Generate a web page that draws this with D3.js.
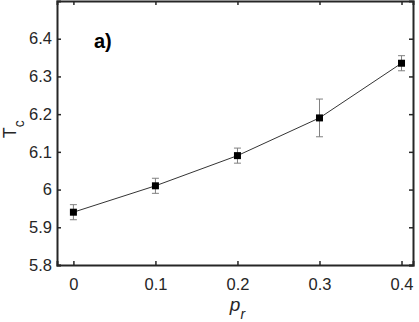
<!DOCTYPE html>
<html lang="en">
<head>
    <meta charset="UTF-8">
    <title>Tc vs pr</title>
    <style>
        body { margin: 0; background: #fff; }
        text { font-family: "Liberation Sans", Arial, sans-serif; }
    </style>
</head>
<body>
    <script src="https://d3js.org/d3.v7.min.js"></script>
    <script>
        // data
        const pr = [0, 0.1, 0.2, 0.3, 0.4];
        const tc = [5.94, 6.01, 6.09, 6.19, 6.335];
        const tcErr = [0.02, 0.02, 0.02, 0.05, 0.02];
        const xTicks = [0, 0.1, 0.2, 0.3, 0.4];
        const yTicks = [5.8, 5.9, 6, 6.1, 6.2, 6.3, 6.4];

        const width = 419, height = 322,
            margin = { left: 57, right: 6, top: 1, bottom: 57 };

        const svg = d3.select('body').append('svg')
            .attr('width', width).attr('height', height);

        const x = d3.scaleLinear().domain([-0.02, 0.414])
            .range([margin.left, width - margin.right]);
        const y = d3.scaleLinear().domain([5.8, 6.5])
            .range([height - margin.bottom, margin.top]);

        const fmt = d => String(+d.toFixed(1));

        // axes, ticks pointing inward
        svg.append('g')
            .attr('transform', `translate(0,${y(5.8)})`)
            .call(d3.axisBottom(x).tickValues(xTicks).tickSize(-4).tickPadding(13).tickFormat(fmt));
        svg.append('g')
            .attr('transform', `translate(0,${y(6.5)})`)
            .call(d3.axisTop(x).tickValues(xTicks).tickSize(-4).tickFormat(''));
        svg.append('g')
            .attr('transform', `translate(${x(-0.02)},0)`)
            .call(d3.axisLeft(y).tickValues(yTicks).tickSize(-4).tickPadding(5).tickFormat(fmt));
        svg.append('g')
            .attr('transform', `translate(${x(0.414)},0)`)
            .call(d3.axisRight(y).tickValues(yTicks).tickSize(-4).tickFormat(''));

        svg.selectAll('.domain').attr('stroke', '#262626').attr('stroke-width', 2);
        svg.selectAll('.tick line').attr('stroke', '#262626').attr('stroke-width', 1.5);
        svg.selectAll('.tick text').attr('font-size', 16.5).attr('fill', '#262626')
            .attr('font-family', '"Liberation Sans", Arial, sans-serif');

        // line
        const pts = pr.map((p, i) => [p, tc[i], tcErr[i]]);
        svg.append('path')
            .datum(pts)
            .attr('fill', 'none')
            .attr('stroke', '#000')
            .attr('stroke-width', 0.8)
            .attr('d', d3.line().x(d => x(d[0])).y(d => y(d[1])));

        // error bars
        const eb = svg.append('g').attr('stroke', '#808080').attr('stroke-width', 1);
        eb.selectAll('line.v').data(pts).enter().append('line')
            .attr('x1', d => x(d[0])).attr('x2', d => x(d[0]))
            .attr('y1', d => y(d[1] - d[2])).attr('y2', d => y(d[1] + d[2]));
        eb.selectAll('line.lo').data(pts).enter().append('line')
            .attr('x1', d => x(d[0]) - 3.5).attr('x2', d => x(d[0]) + 3.5)
            .attr('y1', d => y(d[1] - d[2])).attr('y2', d => y(d[1] - d[2]));
        eb.selectAll('line.hi').data(pts).enter().append('line')
            .attr('x1', d => x(d[0]) - 3.5).attr('x2', d => x(d[0]) + 3.5)
            .attr('y1', d => y(d[1] + d[2])).attr('y2', d => y(d[1] + d[2]));

        // markers
        svg.selectAll('rect.m').data(pts).enter().append('rect')
            .attr('x', d => x(d[0]) - 3.5).attr('y', d => y(d[1]) - 3.5)
            .attr('width', 7).attr('height', 7).attr('fill', '#000');

        // labels
        svg.append('text')
            .attr('x', 94).attr('y', 48)
            .attr('font-size', 20).attr('font-weight', 'bold').attr('fill', '#000')
            .text('a)');

        const yl = svg.append('text')
            .attr('transform', `translate(16,${y(6.16)}) rotate(-90)`)
            .attr('text-anchor', 'middle')
            .attr('fill', '#262626')
            .attr('font-size', 18);
        yl.append('tspan').text('T');
        yl.append('tspan').attr('font-size', 14).attr('dy', 8).text('c');

        const xl = svg.append('text')
            .attr('x', x(0.2)).attr('y', 311)
            .attr('text-anchor', 'middle')
            .attr('fill', '#262626')
            .attr('font-size', 19).attr('font-style', 'italic');
        xl.append('tspan').text('p');
        xl.append('tspan').attr('font-size', 14).attr('dy', 8).text('r');
    </script>
</body>
</html>
